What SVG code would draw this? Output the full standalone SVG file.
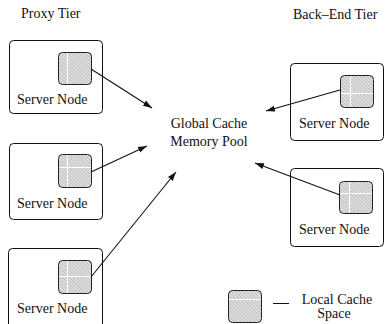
<svg xmlns="http://www.w3.org/2000/svg" width="385" height="324" viewBox="0 0 385 324">
  <style>
    .node { fill: #ffffff; stroke: #111111; stroke-width: 1; }
    .cache { fill: url(#hatch); stroke: #222222; stroke-width: 1; }
    .seam { stroke: #ffffff; stroke-width: 1; }
    .label { font-family: "Liberation Serif", "Times New Roman", serif; font-size: 14px; fill: #111111; }
    .link { stroke: #111111; stroke-width: 1.1; fill: none; marker-end: url(#arrow); }
  </style>
  <defs>
    <pattern id="hatch" patternUnits="userSpaceOnUse" width="2.5" height="2.5" patternTransform="rotate(-45)">
      <rect width="2.5" height="2.5" fill="#dedede"/>
      <line x1="0" y1="0" x2="0" y2="2.5" stroke="#a8a8a8" stroke-width="1"/>
    </pattern>
    <marker id="arrow" markerWidth="10" markerHeight="8" refX="9" refY="4" orient="auto" markerUnits="userSpaceOnUse">
      <path d="M0,1 L9,4 L0,7 Z" fill="#111111"/>
    </marker>
  </defs>

  <!-- tier headings -->
  <text class="label" x="21" y="18">Proxy Tier</text>
  <text class="label" x="293" y="19">Back–End Tier</text>

  <!-- shared pool label -->
  <g id="global-pool">
    <text class="label" x="209" y="128" text-anchor="middle">Global Cache</text>
    <text class="label" x="209" y="146" text-anchor="middle">Memory Pool</text>
  </g>

  <!-- proxy tier servers -->
  <g id="proxy-1">
    <rect class="node" x="9.5" y="40.5" width="93" height="73" rx="4"/>
    <rect class="cache" x="58.5" y="52.5" width="33" height="32" rx="4"/>
    <line class="seam" x1="67.5" y1="53" x2="67.5" y2="84"/>
    <text class="label" x="17" y="104">Server Node</text>
  </g>
  <g id="proxy-2">
    <rect class="node" x="9.5" y="143.5" width="93" height="76" rx="4"/>
    <rect class="cache" x="58.5" y="154.5" width="33" height="33" rx="4"/>
    <line class="seam" x1="67.5" y1="155" x2="67.5" y2="187"/>
    <line class="seam" x1="59" y1="167.5" x2="91" y2="167.5"/>
    <text class="label" x="17" y="208">Server Node</text>
  </g>
  <g id="proxy-3">
    <rect class="node" x="8.5" y="248.5" width="94" height="80" rx="4"/>
    <rect class="cache" x="58.5" y="260.5" width="33" height="33" rx="4"/>
    <line class="seam" x1="67.5" y1="261" x2="67.5" y2="293"/>
    <line class="seam" x1="59" y1="276.5" x2="91" y2="276.5"/>
    <text class="label" x="17" y="313">Server Node</text>
  </g>

  <!-- back-end tier servers -->
  <g id="backend-1">
    <rect class="node" x="290.5" y="63.5" width="93" height="77" rx="4"/>
    <rect class="cache" x="340.5" y="75.5" width="33" height="32" rx="4"/>
    <line class="seam" x1="350.5" y1="76" x2="350.5" y2="107"/>
    <line class="seam" x1="341" y1="93.5" x2="373" y2="93.5"/>
    <text class="label" x="299" y="128">Server Node</text>
  </g>
  <g id="backend-2">
    <rect class="node" x="290.5" y="168.5" width="93" height="78" rx="4"/>
    <rect class="cache" x="339.5" y="181.5" width="33" height="32" rx="4"/>
    <line class="seam" x1="349.5" y1="182" x2="349.5" y2="213"/>
    <line class="seam" x1="340" y1="193.5" x2="372" y2="193.5"/>
    <text class="label" x="299" y="234">Server Node</text>
  </g>

  <!-- legend -->
  <g id="legend">
    <rect class="cache" x="228.5" y="290.5" width="33" height="32" rx="4"/>
    <line class="seam" x1="229" y1="299.5" x2="261" y2="299.5"/>
    <line x1="273" y1="303.5" x2="289" y2="303.5" stroke="#111111" stroke-width="1"/>
    <text class="label" x="337" y="304" text-anchor="middle">Local Cache</text>
    <text class="label" x="334" y="318" text-anchor="middle">Space</text>
  </g>

  <!-- connectors into the shared pool -->
  <g id="connectors">
    <line class="link" x1="91" y1="69" x2="152" y2="108"/>
    <line class="link" x1="91" y1="172" x2="147" y2="146"/>
    <line class="link" x1="91" y1="277" x2="176" y2="172"/>
    <line class="link" x1="340" y1="90" x2="266" y2="111"/>
    <line class="link" x1="340" y1="195" x2="255" y2="163"/>
  </g>
</svg>
